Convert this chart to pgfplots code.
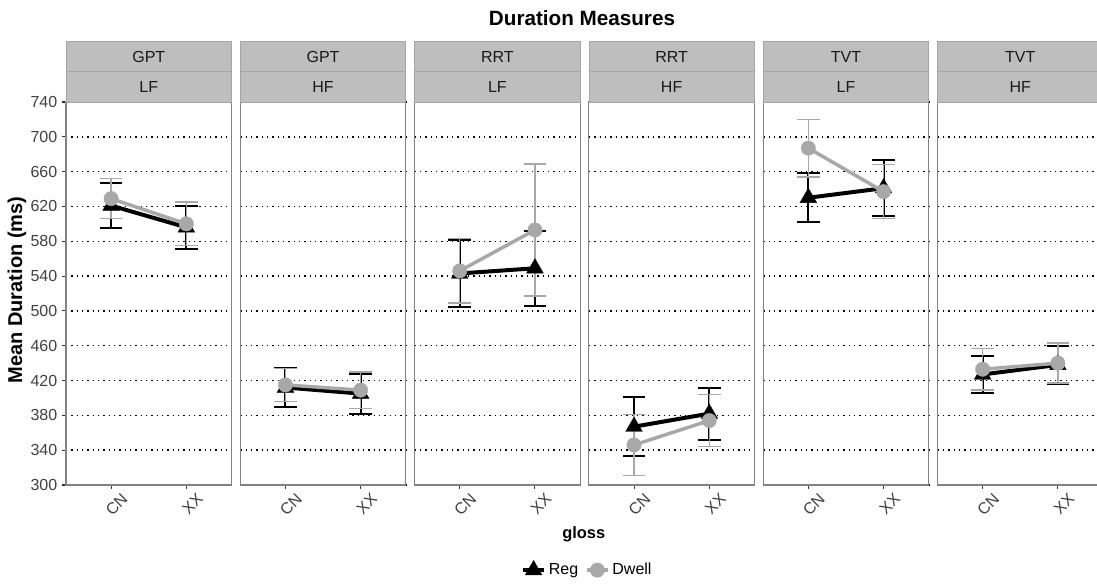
\documentclass[border=0pt]{standalone}
\usepackage{fontspec}
\setmainfont{Liberation Sans}
\usepackage{pgfplots}
\pgfplotsset{compat=1.18}
\usepackage{pgfplotstable}

\definecolor{dwell}{RGB}{168,168,168}
\definecolor{strip}{RGB}{190,190,190}
\definecolor{stripline}{RGB}{165,165,165}
\definecolor{panelborder}{RGB}{130,130,130}

\pgfplotstableread{
x reg regerr dwell dwellerr
1 621 26 629 23
2 596 25 600 25
}\gptlf
\pgfplotstableread{
x reg regerr dwell dwellerr
1 412 22 415 19
2 405 23 409 21
}\gpthf
\pgfplotstableread{
x reg regerr dwell dwellerr
1 543 39 546 37
2 549 43 593 76
}\rrtlf
\pgfplotstableread{
x reg regerr dwell dwellerr
1 367 34 346 35
2 382 30 374 30
}\rrthf
\pgfplotstableread{
x reg regerr dwell dwellerr
1 630 28 687 33
2 641 32 637 31
}\tvtlf
\pgfplotstableread{
x reg regerr dwell dwellerr
1 427 21 433 24
2 438 22 440 23
}\tvthf

\pgfplotsset{
  common/.style={
    scale only axis, width=124.125pt, height=287.25pt, anchor=south west,
    xmin=0.4, xmax=2.6, ymin=300, ymax=740,
    xtick={1,2}, xticklabels={CN,XX},
    ytick={300,340,...,740},
    ymajorgrids,
    grid style={black, line width=1.1pt, dash pattern=on 1.1pt off 2.9pt},
    axis line style={draw=panelborder, line width=0.8pt},
    tick align=outside, major tick length=3pt,
    tick style={black!80, line width=0.8pt},
    xtick pos=bottom, ytick pos=left,
    /pgf/number format/assume math mode=true,
    tick label style={font=\fontsize{12}{14}\selectfont, text=black!75},
    xticklabel style={rotate=45, anchor=east, xshift=7pt, yshift=-11pt},
  },
  regstyle/.style={black, line width=3pt, mark=triangle*, mark size=7.2pt,
    mark options={solid, line width=0.3pt},
    error bars/.cd, y dir=both, y explicit,
    error bar style={line width=1.5pt, black},
    error mark options={rotate=90, line width=1.5pt, mark size=8.5pt, black}},
  dwellstyle/.style={dwell, line width=2.6pt, mark=*, mark size=5.4pt,
    mark options={solid, line width=0.3pt, fill=dwell, draw=dwell},
    error bars/.cd, y dir=both, y explicit,
    error bar style={line width=1.1pt, dwell},
    error mark options={rotate=90, line width=1.1pt, mark size=8.5pt, dwell}},
}

\newcommand{\strips}[3]{%
  \draw[fill=strip, draw=stripline, line width=0.6pt] (#1pt,360.75pt) rectangle ++(124.125pt,22.7pt);
  \draw[fill=strip, draw=stripline, line width=0.6pt] (#1pt,383.45pt) rectangle ++(124.125pt,22.7pt);
  \node[font=\fontsize{12}{14}\selectfont, text=black!90] at ({#1pt+62.06pt},372.1pt) {#3};
  \node[font=\fontsize{12}{14}\selectfont, text=black!90] at ({#1pt+62.06pt},394.8pt) {#2};
}

\begin{document}
\begin{tikzpicture}
% Panel 1
\begin{axis}[common, at={(49.5pt,73.5pt)}]
\addplot[regstyle] table[x=x,y=reg,y error=regerr]{\gptlf};
\addplot[dwellstyle] table[x=x,y=dwell,y error=dwellerr]{\gptlf};
\end{axis}
\strips{49.5}{GPT}{LF}
% Panel 2
\begin{axis}[common, at={(180.225pt,73.5pt)}, yticklabels={}, ytick style={draw=none}]
\addplot[regstyle] table[x=x,y=reg,y error=regerr]{\gpthf};
\addplot[dwellstyle] table[x=x,y=dwell,y error=dwellerr]{\gpthf};
\end{axis}
\strips{180.225}{GPT}{HF}
% Panel 3
\begin{axis}[common, at={(310.95pt,73.5pt)}, yticklabels={}, ytick style={draw=none}]
\addplot[regstyle] table[x=x,y=reg,y error=regerr]{\rrtlf};
\addplot[dwellstyle] table[x=x,y=dwell,y error=dwellerr]{\rrtlf};
\end{axis}
\strips{310.95}{RRT}{LF}
% Panel 4
\begin{axis}[common, at={(441.675pt,73.5pt)}, yticklabels={}, ytick style={draw=none},
  legend style={at={(-0.008,-0.222)}, anchor=center, draw=none, fill=none,
    legend columns=2, font=\fontsize{12}{14}\selectfont,
    /tikz/every even column/.append style={column sep=3pt}},
  legend image code/.code={\draw[#1, mark repeat=2, mark phase=2] plot coordinates {(0pt,0pt) (8pt,0pt) (16pt,0pt)};}]
\addplot[regstyle] table[x=x,y=reg,y error=regerr]{\rrthf};
\addlegendentry{Reg}
\addplot[dwellstyle] table[x=x,y=dwell,y error=dwellerr]{\rrthf};
\addlegendentry{Dwell}
\end{axis}
\strips{441.675}{RRT}{HF}
% Panel 5
\begin{axis}[common, at={(572.4pt,73.5pt)}, yticklabels={}, ytick style={draw=none}]
\addplot[regstyle] table[x=x,y=reg,y error=regerr]{\tvtlf};
\addplot[dwellstyle] table[x=x,y=dwell,y error=dwellerr]{\tvtlf};
\end{axis}
\strips{572.4}{TVT}{LF}
% Panel 6
\begin{axis}[common, at={(703.125pt,73.5pt)}, yticklabels={}, ytick style={draw=none}]
\addplot[regstyle] table[x=x,y=reg,y error=regerr]{\tvthf};
\addplot[dwellstyle] table[x=x,y=dwell,y error=dwellerr]{\tvthf};
\end{axis}
\strips{703.125}{TVT}{HF}

% Titles
\node[font=\fontsize{15.5}{18}\selectfont\bfseries] at (436.5pt,423.75pt) {Duration Measures};
\node[font=\fontsize{15}{18}\selectfont\bfseries, rotate=90] at (12.75pt,219.75pt) {Mean Duration (ms)};
\node[font=\fontsize{12.3}{14}\selectfont\bfseries] at (437.8pt,36.75pt) {gloss};

\pgfresetboundingbox
\useasboundingbox (0,0) rectangle (822.75pt,437.25pt);
\end{tikzpicture}
\end{document}
